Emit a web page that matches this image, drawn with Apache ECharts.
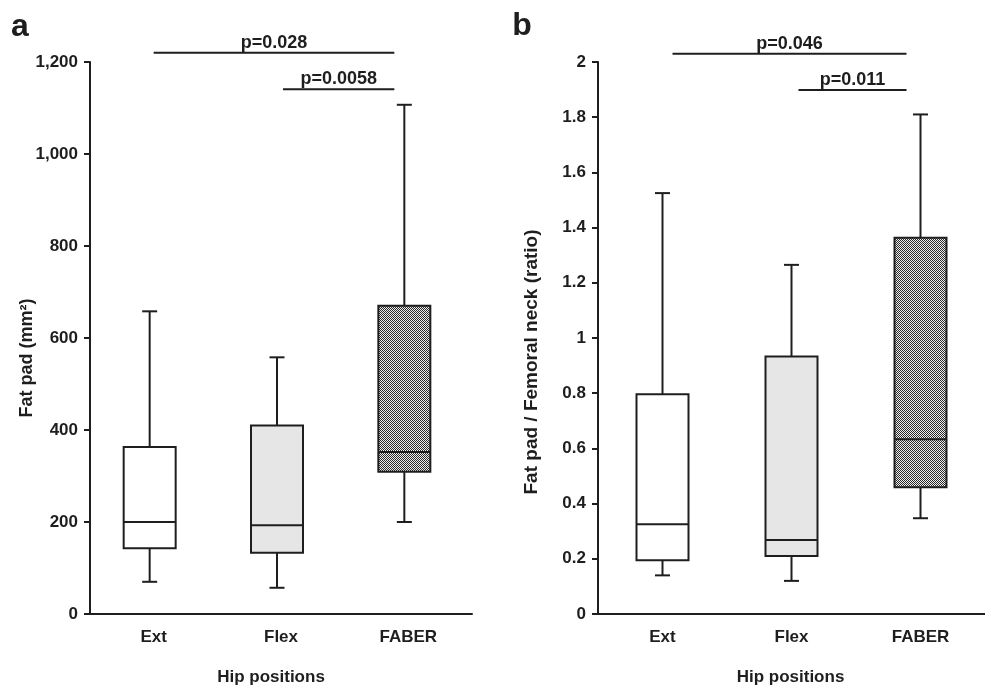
<!DOCTYPE html>
<html>
<head>
<meta charset="utf-8">
<script src="https://cdn.jsdelivr.net/npm/echarts@6/dist/echarts.min.js"></script>
<style>
html,body{margin:0;padding:0;background:#fff;}
#chart{width:985px;height:688px;}
</style>
</head>
<body>
<div id="chart"></div>
<script>
// ---- Data ----
const categories = ['Ext', 'Flex', 'FABER'];

// Panel a: Fat pad (mm²)
const aLow  = [70, 57, 200];
const aQ1   = [143, 133, 309];
const aMed  = [200, 193, 352];
const aQ3   = [363, 410, 670];
const aHigh = [658, 558, 1107];
const aTicks = [0, 200, 400, 600, 800, 1000, 1200];

// Panel b: Fat pad / Femoral neck (ratio)
const bLow  = [0.14, 0.12, 0.347];
const bQ1   = [0.195, 0.21, 0.459];
const bMed  = [0.325, 0.268, 0.633];
const bQ3   = [0.796, 0.933, 1.363];
const bHigh = [1.525, 1.265, 1.81];
const bTicks = [0, 0.2, 0.4, 0.6, 0.8, 1, 1.2, 1.4, 1.6, 1.8, 2];

// Significance annotations: [from category, to category, y value, label]
const aSig = [[0, 2, 1220, 'p=0.028'], [1, 2, 1141, 'p=0.0058']];
const bSig = [[0, 2, 2.03, 'p=0.046'], [1, 2, 1.899, 'p=0.011']];

// ---- Styles ----
const INK = '#1e1e1e';
const FONT = '"Liberation Sans", Arial, sans-serif';

function makePattern() {
  const c = document.createElement('canvas');
  c.width = 2; c.height = 2;
  const g = c.getContext('2d');
  g.fillStyle = '#eeeeee'; g.fillRect(0, 0, 2, 2);
  g.fillStyle = '#2a2a2a'; g.fillRect(0, 0, 1, 1); g.fillRect(1, 1, 1, 1);
  return c;
}
const patternCanvas = makePattern();
const fills = ['#ffffff', '#e6e6e6', {image: patternCanvas, repeat: 'repeat'}];

function boxData(low, q1, med, q3, high) {
  return categories.map((c, i) => [i, low[i], q1[i], med[i], q3[i], high[i]]);
}

function makeRender(xShift) {
  return function (params, api) {
    const i = api.value(0);
    const x = api.coord([i, 0])[0] + xShift;
    const yLow = api.coord([i, api.value(1)])[1];
    const yQ1 = api.coord([i, api.value(2)])[1];
    const yMed = api.coord([i, api.value(3)])[1];
    const yQ3 = api.coord([i, api.value(4)])[1];
    const yHigh = api.coord([i, api.value(5)])[1];
    const halfBox = 26, halfCap = 7.5;
    const ls = {stroke: INK, lineWidth: 2};
    return {
      type: 'group',
      children: [
        {type: 'line', shape: {x1: x, y1: yLow, x2: x, y2: yQ1}, style: ls},
        {type: 'line', shape: {x1: x, y1: yQ3, x2: x, y2: yHigh}, style: ls},
        {type: 'line', shape: {x1: x - halfCap, y1: yLow, x2: x + halfCap, y2: yLow}, style: ls},
        {type: 'line', shape: {x1: x - halfCap, y1: yHigh, x2: x + halfCap, y2: yHigh}, style: ls},
        {type: 'rect', shape: {x: x - halfBox, y: yQ3, width: halfBox * 2, height: yQ1 - yQ3},
          style: {fill: fills[i], stroke: INK, lineWidth: 2}},
        {type: 'line', shape: {x1: x - halfBox, y1: yMed, x2: x + halfBox, y2: yMed}, style: ls}
      ]
    };
  };
}

const axisLabelStyle = {color: INK, fontSize: 17, fontWeight: 'bold', fontFamily: FONT};

function xAxisCfg(gi) {
  return {
    type: 'category', gridIndex: gi, data: categories, boundaryGap: true,
    axisLine: {lineStyle: {color: INK, width: 2}},
    axisTick: {alignWithLabel: true, length: 6, lineStyle: {color: INK, width: 2}},
    axisLabel: Object.assign({margin: 15}, axisLabelStyle),
    splitLine: {show: false}
  };
}
function yAxisCfg(gi, ticks, fmt) {
  return {
    type: 'value', gridIndex: gi, min: ticks[0], max: ticks[ticks.length - 1],
    interval: ticks[1] - ticks[0],
    axisLine: {show: true, lineStyle: {color: INK, width: 2}},
    axisTick: {show: true, length: 6, lineStyle: {color: INK, width: 2}},
    axisLabel: Object.assign({margin: 12, formatter: fmt}, axisLabelStyle),
    splitLine: {show: false}
  };
}

const chart = echarts.init(document.getElementById('chart'), null, {renderer: 'canvas'});
chart.setOption({
  animation: false,
  backgroundColor: '#fff',
  grid: [
    {left: 90, top: 62, width: 382, height: 552},
    {left: 598, top: 62, width: 394, height: 552}
  ],
  xAxis: [xAxisCfg(0), xAxisCfg(1)],
  yAxis: [
    yAxisCfg(0, aTicks, v => v.toLocaleString('en-US')),
    yAxisCfg(1, bTicks, v => String(+v.toFixed(1)))
  ],
  series: [
    {type: 'custom', xAxisIndex: 0, yAxisIndex: 0, renderItem: makeRender(-4),
      encode: {x: 0, y: [1, 2, 3, 4, 5]}, data: boxData(aLow, aQ1, aMed, aQ3, aHigh), clip: false},
    {type: 'custom', xAxisIndex: 1, yAxisIndex: 1, renderItem: makeRender(0),
      encode: {x: 0, y: [1, 2, 3, 4, 5]}, data: boxData(bLow, bQ1, bMed, bQ3, bHigh), clip: false}
  ]
});

// ---- Annotations (positioned through the axes) ----
const elems = [];
function txt(x, y, s, size, rot) {
  return {type: 'text', x: x, y: y, rotation: rot || 0,
    style: {text: s, fill: INK, font: 'bold ' + size + 'px ' + FONT, align: 'center', verticalAlign: 'middle'}};
}
function addSig(sig, xi, offsets) {
  sig.forEach((s, k) => {
    const p1 = chart.convertToPixel({xAxisIndex: xi, yAxisIndex: xi}, [s[0], s[2]]);
    const p2 = chart.convertToPixel({xAxisIndex: xi, yAxisIndex: xi}, [s[1], s[2]]);
    const x1 = p1[0] + offsets[k][0], x2 = p2[0] + offsets[k][1];
    elems.push({type: 'line', shape: {x1: x1, y1: p1[1], x2: x2, y2: p1[1]}, style: {stroke: INK, lineWidth: 2}});
    elems.push(txt((x1 + x2) / 2, p1[1] - 10, s[3], 18));
  });
}
addSig(aSig, 0, [[0, -14], [2, -14]]);
addSig(bSig, 1, [[10, -14], [7, -14]]);

// Panel letters, axis titles
elems.push({type: 'text', x: 20, y: 27, style: {text: 'a', fill: INK, font: 'bold 32px ' + FONT, align: 'center', verticalAlign: 'middle'}});
elems.push({type: 'text', x: 522, y: 26, style: {text: 'b', fill: INK, font: 'bold 32px ' + FONT, align: 'center', verticalAlign: 'middle'}});
elems.push(txt(27, 358, 'Fat pad (mm²)', 18, Math.PI / 2));
elems.push(txt(532, 362, 'Fat pad / Femoral neck (ratio)', 19, Math.PI / 2));
const ha = chart.convertToPixel({xAxisIndex: 0, yAxisIndex: 0}, [1, 0]);
const hb = chart.convertToPixel({xAxisIndex: 1, yAxisIndex: 1}, [1, 0]);
elems.push(txt(ha[0] - 10, 677, 'Hip positions', 17));
elems.push(txt(hb[0] - 1, 677, 'Hip positions', 17));

chart.setOption({graphic: elems});
</script>
</body>
</html>
